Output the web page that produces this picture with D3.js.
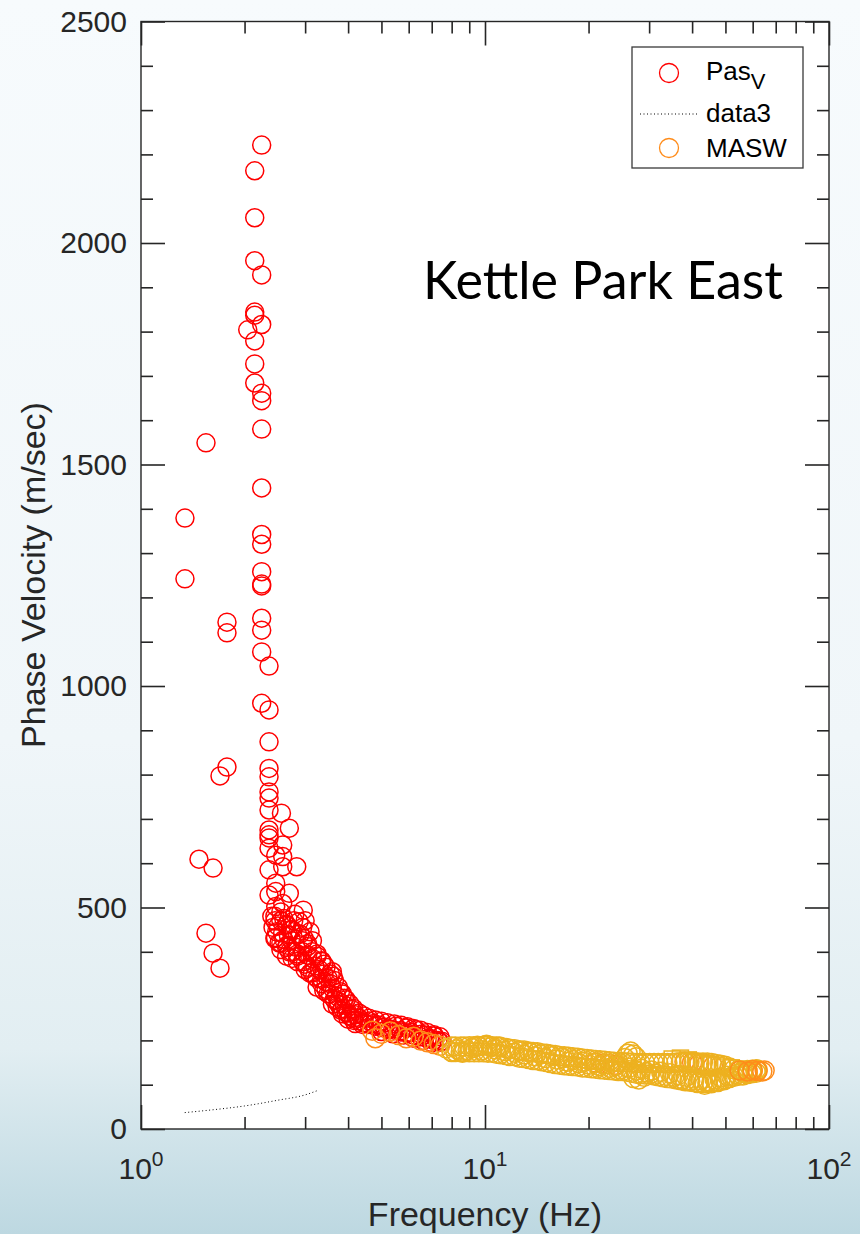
<!DOCTYPE html>
<html>
<head>
<meta charset="utf-8">
<script src="https://cdn.jsdelivr.net/npm/d3@7"></script>
<style>
  html, body { margin: 0; padding: 0; }
  body { width: 860px; height: 1234px; overflow: hidden; }
  svg { display: block; }
</style>
</head>
<body>
<svg id="chart" width="860" height="1234"></svg>
<script>
// ---------------- DATA ----------------
const chartTitle = "Kettle Park East";
const xLabel = "Frequency (Hz)";
const yLabel = "Phase Velocity (m/sec)";
const xTickExponents = [0, 1, 2];
const yTickLabels = [0, 500, 1000, 1500, 2000, 2500];

// Pas_V (red) : [frequency Hz, phase velocity m/s]
const pasV = [
  [1.342,1379],[1.342,1242],[1.545,1549],[1.474,609],[1.620,589],[1.545,442],[1.620,397],
  [1.697,363],[1.697,797],[1.778,817],[1.778,1144],[1.778,1120],
  [2.243,2221],[2.141,2163],[2.141,2057],[2.141,1960],[2.243,1928],[2.141,1844],[2.141,1837],
  [2.243,1816],[2.043,1804],[2.141,1779],[2.141,1727],[2.141,1684],[2.243,1661],[2.243,1644],
  [2.243,1580],[2.243,1447],[2.243,1342],[2.243,1320],[2.243,1258],[2.243,1226],[2.243,1230],
  [2.243,1153],[2.243,1126],[2.243,1077],[2.356,1045],[2.243,961],[2.356,946],[2.356,874],
  [2.356,814],[2.356,795],[2.356,761],[2.356,747],[2.356,720],[2.56,713],[2.699,679],
  [2.356,675],[2.356,664],[2.356,657],[2.582,641],[2.356,634],[2.464,618],[2.582,615],
  [2.356,585],[2.836,592],[2.582,592],[2.464,555],[2.356,528],[2.464,536],[2.699,532],
  [2.963,494],[2.582,509],[2.464,502],
  [2.40,480],[2.45,470],[2.50,458],[2.55,490],[2.60,475],[2.65,462],[2.72,450],[2.80,485],
  [2.88,468],[2.95,455],[2.42,455],[2.48,445],[2.58,442],[2.68,438],[2.78,470],[3.00,470],
  [2.46,432],[2.52,420],[2.60,428],[2.66,415],[2.74,425],[2.82,410],[2.90,440],[2.98,430],
  [3.05,418],[3.15,425],[2.55,405],[2.70,400],[2.85,395],[3.10,445],
  [2.65,390],[2.75,385],[2.85,378],[2.95,400],[3.05,392],[3.15,385],[3.25,395],[3.35,380],
  [3.40,372],[3.00,372],[3.20,368],
  [3.00,360],[3.10,352],[3.20,345],[3.30,360],[3.40,350],[3.50,340],[3.60,355],[3.45,332],
  [3.35,338],[3.55,328],[3.62,345],
  [3.25,320],[3.40,312],[3.50,305],[3.60,318],[3.70,300],[3.80,310],[3.90,295],[3.65,292],[3.75,288],
  [3.60,282],[3.72,275],[3.82,268],[3.90,280],[4.00,262],[4.10,270],[4.20,258],[3.85,260],[4.05,255],
  [4.00,248],[4.15,245],[4.30,250],[4.45,240],[4.60,244],[4.75,238],[4.40,236],[4.20,238],
  [4.9,235],[5.1,230],[5.3,226],[5.5,232],[5.7,222],[5.9,228],[6.1,218],[6.3,224],[6.5,214],
  [5.0,220],[5.4,215],[5.8,212],
  [6.7,212],[6.9,205],[7.1,210],[7.3,200],[7.5,198],[6.6,200],[7.0,195],[6.2,205],
  // upper and lower edges of the dense red band
  [2.45,480],[2.55,470],[2.65,460],[2.75,450],[2.85,440],[2.95,425],[3.05,412],[3.15,400],
  [3.25,390],[3.35,378],[3.45,365],[3.55,350],[3.65,335],[3.75,320],[3.85,305],[3.95,292],
  [4.05,282],[4.15,272],[4.3,262],[4.45,255],[4.6,250],[4.8,246],[5.0,243],[5.2,240],
  [5.45,237],[5.7,234],[5.95,231],[6.2,227],[6.5,223],[6.8,218],[7.1,213],[7.4,208],
  [2.45,430],[2.55,420],[2.65,410],[2.75,400],[2.85,390],[2.95,378],[3.05,365],[3.15,352],
  [3.25,340],[3.35,328],[3.45,315],[3.55,305],[3.65,292],[3.75,282],[3.85,272],[3.95,262],
  [4.05,255],[4.15,250],[4.3,244],[4.45,240],[4.6,236],[4.8,232],[5.0,229],[5.2,226],
  [5.45,223],[5.7,219],[5.95,216],[6.2,212],[6.5,208],[6.8,204],[7.1,200],[7.4,196]
];

// data3 (dotted black line)
const data3 = [[1.34,37],[1.6,43],[2.0,52],[2.5,65],[3.0,77],[3.29,88]];

// MASW (orange)
const masw = [
  [4.7,222],[5.0,215],[4.8,205],[5.3,220],[5.6,212],[5.9,205],[6.2,208],[6.5,200],[6.8,196],
  [7.1,192],[7.4,188],[21,150],[22,148],[23,146],[24,145],[38,152],[40,150],[42,148],
  [44,146],[46,142],[55,132],[58,130],[60,133],[62,131],[64,130],[65,132]
];

// unlabelled goldenrod circles (middle of band, bump near 26 Hz)
const maswB = [
  [7.7,182],[8.0,175],[8.3,180],[8.6,172],[8.9,178],[9.2,183],[9.5,188],[9.8,178],[10.1,190],
  [10.4,185],[10.7,180],[11.0,186],[11.4,176],[11.8,180],[12.2,172],[12.6,176],[13.0,168],
  [13.5,172],[14.0,164],[14.5,168],[15.0,160],[15.6,164],[16.2,157],[16.8,160],[17.4,152],
  [18.0,156],[18.7,149],[19.4,152],[20.1,145],[20.8,149],[21.5,142],[22.3,146],[23.1,138],
  [24.0,142],[24.8,135],[25.5,160],[26.0,170],[26.5,175],[27.0,168],[27.5,162],[26.2,138],
  [27.5,132],[28.5,136],[29.5,128],[30.5,132],[31.5,125],[32.5,129],[33.5,120],[34.5,126],
  [35.5,118],[36.5,122],[37.5,112],[38.5,118],[39.5,108],[40.5,114],[41.5,104],[42.5,110],
  [43.5,100],[44.5,108],[45.5,103],[46.5,112],[47.5,106],[48.5,116],[49.5,110],[50.5,120],
  [52,118],[54,124],[56,128],[58,126],[60,130],[62,134],[27,115],[28,112],[29,118]
];

// goldenrod band, upper edge
const maswBandHi = [
  [8.0,186],[8.2,186],[8.5,186],[8.7,186],[9.0,187],[9.3,187],[9.6,187],[9.9,188],[10.2,188],
  [10.5,187],[10.8,186],[11.1,185],[11.5,183],[11.8,181],[12.2,180],[12.6,178],[13.0,177],
  [13.4,175],[13.8,174],[14.2,173],[14.6,171],[15.1,170],[15.5,168],[16.0,167],[16.5,165],
  [17.0,164],[17.5,163],[18.0,162],[18.6,161],[19.2,159],[19.8,158],[20.4,157],[21.0,156],
  [21.6,155],[22.3,154],[23.0,153],[23.7,152],[24.4,151],[25.1,151],[25.9,150],[26.7,150],
  [27.5,149],[28.3,149],[29.2,149],[30.1,149],[31.0,149],[31.9,149],[32.9,149],[33.9,149],
  [34.9,149],[36.0,150],[37.1,151],[38.2,151],[39.3,151],[40.5,151],[41.7,150],[43.0,150],
  [44.3,150],[45.6,149],[47.0,147],[48.4,145],[49.9,143],[51.4,139],[53.0,135],[54.6,133],
  [56.2,132],[57.9,133],[59.6,134],[61.4,135]
];

// goldenrod band, lower edge
const maswBandLo = [
  [8.0,174],[8.2,174],[8.5,174],[8.7,174],[9.0,173],[9.3,173],[9.6,173],[9.9,173],[10.2,172],
  [10.5,172],[10.8,170],[11.1,169],[11.5,167],[11.8,165],[12.2,164],[12.6,161],[13.0,160],
  [13.4,158],[13.8,156],[14.2,155],[14.6,153],[15.1,151],[15.5,149],[16.0,147],[16.5,145],
  [17.0,144],[17.5,143],[18.0,142],[18.6,141],[19.2,139],[19.8,138],[20.4,137],[21.0,136],
  [21.6,135],[22.3,134],[23.0,133],[23.7,132],[24.4,131],[25.1,131],[25.9,129],[26.7,127],
  [27.5,125],[28.3,124],[29.2,123],[30.1,123],[31.0,121],[31.9,119],[32.9,117],[33.9,115],
  [34.9,114],[36.0,112],[37.1,110],[38.2,108],[39.3,107],[40.5,106],[41.7,105],[43.0,104],
  [44.3,104],[45.6,105],[47.0,107],[48.4,109],[49.9,112],[51.4,115],[53.0,118],[54.6,120],
  [56.2,121],[57.9,124],[59.6,126],[61.4,127]
];

// unlabelled goldenrod squares
const maswSq = [[35,158],[37,160],[39,156],[41,150],[43,148],[45,146],[47,144],[49,140],[52,138]];

// ---------------- CHART ----------------
const svg = d3.select("#chart");
const FONT = "'Liberation Sans', Arial, Helvetica, sans-serif";
const ink = "#262626";
const SW = 1.5;

const defs = svg.append("defs");
const grad = defs.append("linearGradient").attr("id", "bg").attr("x1", 0).attr("y1", 0).attr("x2", 0).attr("y2", 1);
[[0, "#f7fbfd"], [0.6, "#f0f6f9"], [0.85, "#e2eef2"], [1, "#bdd8e1"]].forEach(([o, c]) =>
  grad.append("stop").attr("offset", o).attr("stop-color", c));
svg.append("rect").attr("width", 860).attr("height", 1234).attr("fill", "url(#bg)");

const L = 141, R = 829, T = 21.5, B = 1129;
const x = d3.scaleLog().domain([1, 100]).range([L, R]);
const y = d3.scaleLinear().domain([0, 2500]).range([B, T]);

defs.append("clipPath").attr("id", "clip")
  .append("rect").attr("x", L).attr("y", T).attr("width", R - L).attr("height", B - T);

svg.append("rect").attr("x", L).attr("y", T).attr("width", R - L).attr("height", B - T).attr("fill", "#ffffff");

const plot = svg.append("g").attr("clip-path", "url(#clip)");

function circles(data, color, r) {
  plot.append("g").selectAll("circle").data(data).join("circle")
    .attr("cx", d => x(d[0])).attr("cy", d => y(d[1])).attr("r", r)
    .attr("fill", "none").attr("stroke", color).attr("stroke-width", SW);
}

// Red circles
circles(pasV, "#ff0000", 9);

// data3 dotted line
plot.append("path").datum(data3)
  .attr("d", d3.line().x(d => x(d[0])).y(d => y(d[1])).curve(d3.curveMonotoneX))
  .attr("fill", "none").attr("stroke", "#000").attr("stroke-width", 1).attr("stroke-dasharray", "1,2.5");

// MASW orange (under the goldenrod, except the tail)
circles(masw.filter(d => d[0] < 55), "#ff8c1a", 9.5);

// goldenrod band
circles(maswBandLo, "#edb120", 9.5);
circles(maswBandHi, "#edb120", 9.5);
circles(maswB, "#edb120", 9.5);
plot.append("g").selectAll("rect").data(maswSq).join("rect")
  .attr("x", d => x(d[0]) - 8).attr("y", d => y(d[1]) - 8).attr("width", 16).attr("height", 16)
  .attr("fill", "none").attr("stroke", "#edb120").attr("stroke-width", SW);

// MASW tail on top
circles(masw.filter(d => d[0] >= 55), "#ff8c1a", 9.5);

// ---------------- AXES ----------------
const xTicks = x.ticks();
const isMajorX = v => Math.abs(Math.log10(v) - Math.round(Math.log10(v))) < 1e-9;
const yTicks = d3.range(0, 2501, 100);

function styleAxis(g) {
  g.select(".domain").remove();
  g.selectAll(".tick line").attr("stroke", ink).attr("stroke-width", 1.6);
}

const gb = svg.append("g").attr("transform", `translate(0,${B})`)
  .call(d3.axisBottom(x).tickValues(xTicks).tickSize(-12).tickFormat(""));
styleAxis(gb);
gb.selectAll(".tick line").attr("y2", d => isMajorX(d) ? -24 : -12);

const gt = svg.append("g").attr("transform", `translate(0,${T})`)
  .call(d3.axisTop(x).tickValues(xTicks).tickSize(-12).tickFormat(""));
styleAxis(gt);
gt.selectAll(".tick line").attr("y2", d => isMajorX(d) ? 24 : 12);

const gl = svg.append("g").attr("transform", `translate(${L},0)`)
  .call(d3.axisLeft(y).tickValues(yTicks).tickSize(-12).tickPadding(14)
    .tickFormat(d => yTickLabels.includes(d) ? d : ""));
styleAxis(gl);
gl.selectAll(".tick line").attr("x2", d => d % 500 === 0 ? 24 : 12);
gl.selectAll(".tick text").attr("font-family", FONT).attr("font-size", 30).attr("fill", ink);

const gr = svg.append("g").attr("transform", `translate(${R},0)`)
  .call(d3.axisRight(y).tickValues(yTicks).tickSize(-12).tickFormat(""));
styleAxis(gr);
gr.selectAll(".tick line").attr("x2", d => d % 500 === 0 ? -24 : -12);

// box
svg.append("rect").attr("x", L).attr("y", T).attr("width", R - L).attr("height", B - T)
  .attr("fill", "none").attr("stroke", ink).attr("stroke-width", 1.4);

// x tick labels 10^n
xTickExponents.forEach(e => {
  const t = svg.append("text").attr("x", x(Math.pow(10, e))).attr("y", 1179)
    .attr("text-anchor", "middle").attr("font-family", FONT).attr("font-size", 30).attr("fill", ink);
  t.append("tspan").text("10");
  t.append("tspan").attr("dy", -13).attr("font-size", 21).text(e);
});

// axis labels
svg.append("text").attr("x", (L + R) / 2).attr("y", 1226).attr("text-anchor", "middle")
  .attr("font-family", FONT).attr("font-size", 34).attr("fill", ink).text(xLabel);
svg.append("text").attr("transform", `translate(45,575) rotate(-90)`).attr("text-anchor", "middle")
  .attr("font-family", FONT).attr("font-size", 34).attr("fill", ink).text(yLabel);

// title inside plot
svg.append("text").attr("x", 423).attr("y", 299)
  .attr("font-family", "Lato, 'Open Sans', sans-serif").attr("font-size", 52).attr("fill", "#000")
  .text(chartTitle);

// ---------------- LEGEND ----------------
const lg = svg.append("g");
lg.append("rect").attr("x", 632).attr("y", 47).attr("width", 171).attr("height", 121)
  .attr("fill", "#fff").attr("stroke", "#3a3a3a").attr("stroke-width", 1.3);
lg.append("circle").attr("cx", 669).attr("cy", 73).attr("r", 9.5)
  .attr("fill", "none").attr("stroke", "#ff0000").attr("stroke-width", 1.3);
const t1 = lg.append("text").attr("x", 706).attr("y", 80).attr("font-family", FONT).attr("font-size", 26).attr("fill", "#000");
t1.append("tspan").text("Pas");
t1.append("tspan").attr("dy", 9).attr("font-size", 22).text("V");
lg.append("line").attr("x1", 640).attr("x2", 697).attr("y1", 114).attr("y2", 114)
  .attr("stroke", "#000").attr("stroke-width", 1).attr("stroke-dasharray", "1,2.5");
lg.append("text").attr("x", 706).attr("y", 122).attr("font-family", FONT).attr("font-size", 26).attr("fill", "#000").text("data3");
lg.append("circle").attr("cx", 669).attr("cy", 148).attr("r", 9.5)
  .attr("fill", "none").attr("stroke", "#ff8c1a").attr("stroke-width", 1.3);
lg.append("text").attr("x", 706).attr("y", 157).attr("font-family", FONT).attr("font-size", 26).attr("fill", "#000").text("MASW");
</script>
</body>
</html>
